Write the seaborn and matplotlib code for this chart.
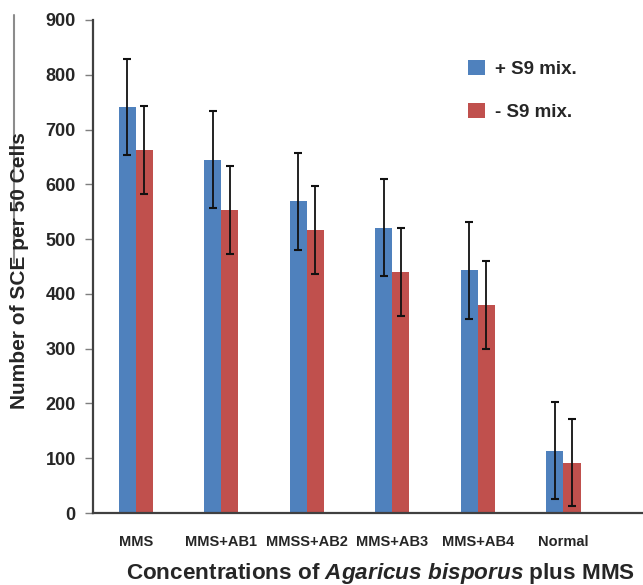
import matplotlib
matplotlib.use("Agg")
import matplotlib.pyplot as plt
import pandas as pd
import seaborn as sns
from matplotlib.lines import Line2D

categories = ["MMS", "MMS+AB1", "MMSS+AB2", "MMS+AB3", "MMS+AB4", "Normal"]
plus_s9 = [741, 645, 569, 521, 443, 114]
minus_s9 = [663, 553, 517, 440, 380, 92]
plus_err = [88, 88, 88, 89, 89, 88]
minus_err = [80, 80, 80, 80, 80, 80]
series = ["+ S9 mix.", "- S9 mix."]

df = pd.DataFrame({
    "cat": categories * 2,
    "value": plus_s9 + minus_s9,
    "err": plus_err + minus_err,
    "series": [series[0]] * len(categories) + [series[1]] * len(categories),
})

sns.set_theme(style="white")
plt.rcParams["font.family"] = ["Liberation Sans", "DejaVu Sans"]
plt.rcParams["font.weight"] = "bold"
plt.rcParams["mathtext.fontset"] = "custom"
plt.rcParams["mathtext.it"] = "Liberation Sans:italic:bold"
plt.rcParams["mathtext.rm"] = "Liberation Sans:bold"

W, H = 643, 585
fig = plt.figure(figsize=(W / 100, H / 100), dpi=100)
ax = fig.add_axes([93 / W, (H - 513) / H, 1 - 93 / W, (513 - 20) / H])

sns.barplot(data=df, x="cat", y="value", hue="series", order=categories,
            hue_order=series, palette=["#4F81BD", "#C0504D"], width=0.4,
            errorbar=None, ax=ax, saturation=1, linewidth=0)

for container, (_, grp) in zip(ax.containers, df.groupby("series", sort=False)):
    xs = [p.get_x() + p.get_width() / 2 for p in container.patches]
    ax.errorbar(xs, grp["value"].values, yerr=grp["err"].values, fmt="none",
                ecolor="#111111", elinewidth=1.3, capsize=2.6, capthick=1.5, zorder=5)

ax.set_ylim(0, 900)
ax.set_xlim(-0.5, 5.93)
ax.set_yticks(range(0, 901, 100))
ax.tick_params(axis="y", direction="out", length=6, width=1.0, color="#7f7f7f",
               labelsize=13, left=True, pad=6.5)
ax.tick_params(axis="x", length=0, labelsize=10.5, pad=16)
for lab in ax.get_xticklabels() + ax.get_yticklabels():
    lab.set_fontweight("bold")
for side in ["top", "right"]:
    ax.spines[side].set_visible(False)
for side in ["left", "bottom"]:
    ax.spines[side].set_color("#404040")
    ax.spines[side].set_linewidth(1.6)

ax.set_ylabel("")
ax.set_xlabel("")
fig.text(20 / W, 1 - 271 / H, "Number of SCE per 50 Cells", rotation=90,
         ha="center", va="center", fontsize=15, fontweight="bold")
fig.text(381 / W, 1 - 573 / H, "Concentrations of $\\mathit{Agaricus\\ bisporus}$ plus MMS",
         ha="center", va="center", fontsize=16.2, fontweight="bold")

leg = ax.legend(loc="center left", bbox_to_anchor=(468 / W, 1 - 90.5 / H),
                bbox_transform=fig.transFigure, frameon=False, borderpad=0,
                borderaxespad=0, fontsize=13.5, handlelength=0.9, handleheight=0.8,
                labelspacing=1.35, handletextpad=0.55)
for t in leg.get_texts():
    t.set_fontweight("bold")

# thin grey border remnant on the far left of the original figure
fig.add_artist(Line2D([13.5 / W, 13.5 / W], [1 - 15 / H, 1 - 263 / H],
                      transform=fig.transFigure, color="#8c8c8c", linewidth=1.5, zorder=0))

fig.savefig("out.png", dpi=100)
